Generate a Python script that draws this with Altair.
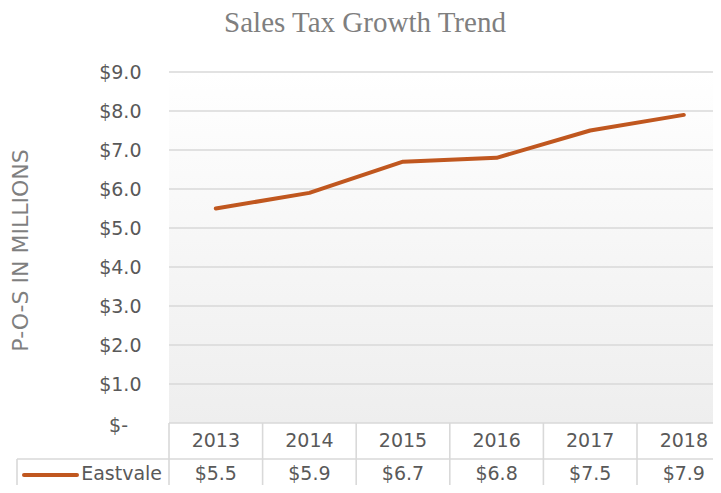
import altair as alt
import pandas as pd

# ---- data ----
years = [2013, 2014, 2015, 2016, 2017, 2018]
values = [5.5, 5.9, 6.7, 6.8, 7.5, 7.9]
value_labels = ["$5.5", "$5.9", "$6.7", "$6.8", "$7.5", "$7.9"]
series_name = "Eastvale"
y_ticks = [0, 1, 2, 3, 4, 5, 6, 7, 8, 9]
zero_label = "$-"
chart_title = "Sales Tax Growth Trend"
y_title = "P-O-S IN MILLIONS"

# ---- layout ----
W, H = 544, 351          # plot area (page must not overflow 721x493)
COL = 93.6               # table column width in px
PAD_L, PAD_T, PAD_B = 161, 64, 62
LINE_COLOR = "#c0571f"
GRID = "#d9d9d9"
TXT = "#595959"
FONT = "DejaVu Sans"

df = pd.DataFrame({"year": years, "value": values, "label": value_labels})
bounds = pd.DataFrame({"b": [y - 0.5 for y in years]})
ticks_df = pd.DataFrame({"value": y_ticks})
zero_df = pd.DataFrame({"value": [0], "s": [zero_label]})
one = pd.DataFrame({"k": [0]})

x_scale = alt.Scale(domain=[years[0] - 0.5, years[0] - 0.5 + W / COL], nice=False, zero=False)
y_scale = alt.Scale(domain=[0, 9], nice=False, zero=True)

label_expr = "datum.value == 0 ? '' : '$' + format(datum.value, '.1f')"

y_axis = alt.Axis(
    values=y_ticks, labelExpr=label_expr, domain=False, ticks=False, grid=False,
    labelPadding=28, labelFontSize=19, labelFont=FONT, labelColor=TXT,
    title=y_title, titleFont=FONT, titleFontSize=22, titleFontWeight="normal",
    titleColor="#7f7f7f", titleX=-149, titleY=178, titleAngle=270,
    titleAlign="center", titleBaseline="middle")

def Y(field):
    return alt.Y(field, scale=y_scale, axis=y_axis, title=y_title)

bg = alt.Chart(one).mark_rect(
    color=alt.LinearGradient(gradient="linear", x1=0, y1=0, x2=0, y2=1,
                             stops=[alt.GradientStop(offset=0, color="#ffffff"),
                                    alt.GradientStop(offset=1, color="#eeeeee")])
).encode(x=alt.value(0), x2=alt.value(W), y=alt.value(0), y2=alt.value(H))

grid = alt.Chart(ticks_df).mark_rule(color=GRID, strokeWidth=1.6).encode(
    x=alt.value(0), x2=alt.value(W), y=Y("value:Q"),
)

line = alt.Chart(df).mark_line(color=LINE_COLOR, strokeWidth=4, strokeCap="round", strokeJoin="round").encode(
    x=alt.X("year:Q", scale=x_scale, axis=None),
    y=Y("value:Q"),
)

zero_text = alt.Chart(zero_df).mark_text(
    font=FONT, fontSize=19, color=TXT, align="right", baseline="middle", dy=3
).encode(x=alt.value(-41), y=Y("value:Q"), text="s:N")

# table: column separators
vlines = alt.Chart(bounds).mark_rule(color=GRID, strokeWidth=1.6).encode(
    x=alt.X("b:Q", scale=x_scale, axis=None), y=alt.value(H), y2=alt.value(H + PAD_B)
)
# horizontal separator between year row and series row
hline = alt.Chart(one).mark_rule(color=GRID, strokeWidth=1.6).encode(
    x=alt.value(-152), x2=alt.value(W), y=alt.value(387)
)
# left border of the legend cell
lborder = alt.Chart(one).mark_rule(color=GRID, strokeWidth=1.6).encode(
    x=alt.value(-152), y=alt.value(387), y2=alt.value(H + PAD_B)
)

year_text = alt.Chart(df).mark_text(font=FONT, fontSize=19, color=TXT, baseline="middle").encode(
    x=alt.X("year:Q", scale=x_scale, axis=None), y=alt.value(369), text=alt.Text("year:Q", format="d")
)
val_text = alt.Chart(df).mark_text(font=FONT, fontSize=19, color=TXT, baseline="middle").encode(
    x=alt.X("year:Q", scale=x_scale, axis=None), y=alt.value(402), text="label:N"
)

swatch = alt.Chart(one).mark_rule(color=LINE_COLOR, strokeWidth=4, strokeCap="round").encode(
    x=alt.value(-145), x2=alt.value(-92), y=alt.value(403)
)
name_text = alt.Chart(pd.DataFrame({"n": [series_name]})).mark_text(
    font=FONT, fontSize=19, color=TXT, align="right", baseline="middle"
).encode(x=alt.value(-7), y=alt.value(402), text="n:N")

title_text = alt.Chart(pd.DataFrame({"t": [chart_title]})).mark_text(
    font="Liberation Serif", fontSize=29, color="#7f7f7f", align="center", baseline="alphabetic"
).encode(x=alt.value(196), y=alt.value(-40), text="t:N")

chart = alt.layer(
    bg, grid, vlines, hline, lborder, line, zero_text, year_text, val_text, swatch, name_text, title_text
).properties(
    width=W, height=H,
    autosize=alt.AutoSizeParams(type="none"),
    padding={"left": PAD_L, "top": PAD_T, "right": 0, "bottom": PAD_B},
).configure_view(
    stroke=None,
)

chart.save("out.html", embed_options={"renderer": "svg", "actions": False})
